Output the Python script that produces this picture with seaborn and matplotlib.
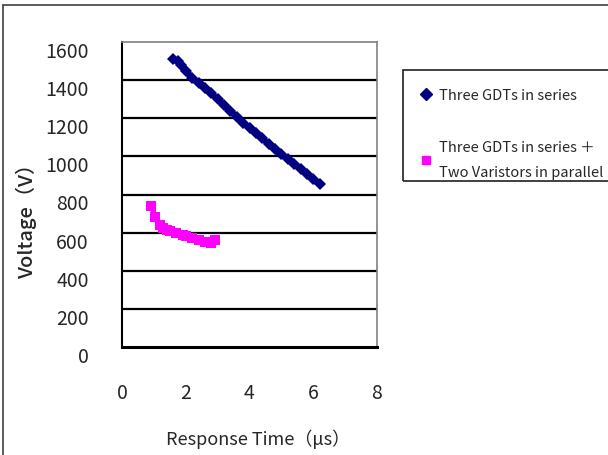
import seaborn as sns
import matplotlib.pyplot as plt
import matplotlib.transforms as mtransforms
from matplotlib.lines import Line2D
from matplotlib.patches import Rectangle
import pandas as pd

# series
gdt_time = [1.6, 1.75, 1.85, 2.0, 2.2, 2.4, 2.6, 2.8, 3.0, 3.2, 3.4, 3.6, 3.8,
            4.0, 4.2, 4.4, 4.6, 4.8, 5.0, 5.2, 5.4, 5.6, 5.8, 6.0, 6.2]
gdt_volt = [1510, 1500, 1480, 1450, 1410, 1385, 1360, 1330, 1300, 1270, 1240,
            1205, 1175, 1150, 1120, 1095, 1065, 1040, 1010, 985, 960, 935,
            910, 880, 855]
var_time = [0.92, 1.05, 1.2, 1.3, 1.4, 1.5, 1.7, 1.9, 2.0, 2.2, 2.4, 2.6, 2.8, 2.92]
var_volt = [740, 680, 640, 625, 615, 610, 600, 585, 580, 570, 560, 552, 545, 560]
labels = ["Three GDTs in series", "Three GDTs in series \uff0b\nTwo Varistors in parallel"]
x_ticks = [0, 2, 4, 6, 8]
y_ticks = [0, 200, 400, 600, 800, 1000, 1200, 1400, 1600]

sns.set_style("white")
fonts = ['Noto Sans CJK JP', 'DejaVu Sans']
plt.rcParams['font.family'] = fonts

fig = plt.figure(figsize=(6.08, 4.56), dpi=100)
ax = fig.add_axes([122/608, 1-348/456, 255/608, 305/456])

df1 = pd.DataFrame({"t": gdt_time, "v": gdt_volt})
df2 = pd.DataFrame({"t": var_time, "v": var_volt})
sns.lineplot(data=df1, x="t", y="v", ax=ax, color="#000080", lw=4.5,
             marker="D", markersize=6.5, markeredgewidth=0, sort=False)
sns.lineplot(data=df2, x="t", y="v", ax=ax, color="#ff00ff", lw=3.5,
             marker="s", markersize=7, markeredgewidth=0, sort=False)

ax.set_xlim(0, 8)
ax.set_ylim(0, 1600)
ax.set_xticks(x_ticks)
ax.set_yticks(y_ticks)
ax.set_xticklabels([str(t) for t in x_ticks])
ax.set_yticklabels([str(t) for t in y_ticks])
for y in y_ticks[1:-1]:
    ax.axhline(y, color="black", lw=1.6, zorder=0)

ax.tick_params(axis="x", direction="in", length=7, width=1.2, pad=25, labelsize=14, color="black")
ax.tick_params(axis="y", direction="in", length=3, width=1.2, pad=24, labelsize=14, color="black")
off = mtransforms.ScaledTranslation(0, -5/72, fig.dpi_scale_trans)
for lab in ax.get_yticklabels():
    lab.set_transform(lab.get_transform() + off)

for s in ["left", "bottom"]:
    ax.spines[s].set_color("black")
ax.spines["left"].set_linewidth(1.5)
ax.spines["bottom"].set_linewidth(2.2)
for s in ["right", "top"]:
    ax.spines[s].set_color("#808080")
    ax.spines[s].set_linewidth(1.2)

ax.set_xlabel("Response Time\uff08\u03bcs\uff09", fontsize=13)
ax.set_ylabel("Voltage\uff08V\uff09", fontsize=14.5, weight="medium")
ax.xaxis.set_label_coords(0.533, -0.266)
ax.yaxis.set_label_coords(-0.335, 0.43)

handles = [Line2D([], [], color="#000080", marker="D", markersize=6, linestyle="none"),
           Line2D([], [], color="#ff00ff", marker="s", markersize=6, linestyle="none")]
leg = ax.legend(handles, labels, loc="upper left",
                bbox_to_anchor=(403/608, 1-71/456), bbox_transform=fig.transFigure,
                fontsize=10.5, frameon=False,
                handlelength=0.6, handletextpad=0.6, labelspacing=2.6,
                borderpad=1.25, borderaxespad=0)
for t in leg.get_texts():
    t.set_linespacing(2.0)

# legend box, its lower edge cuts the last text line as in the original
fig.add_artist(Rectangle((403/608, 1-182/456), 0.5, 111/456, fill=False,
                         ec="#202020", lw=1.2))

# outer chart border
fig.add_artist(Line2D([3/608, 3/608], [0, 1-6/456], color="#404040", lw=1.2))
fig.add_artist(Line2D([3/608, 1], [1-6/456, 1-6/456], color="#404040", lw=1.2))

fig.savefig("out.png", dpi=100)
